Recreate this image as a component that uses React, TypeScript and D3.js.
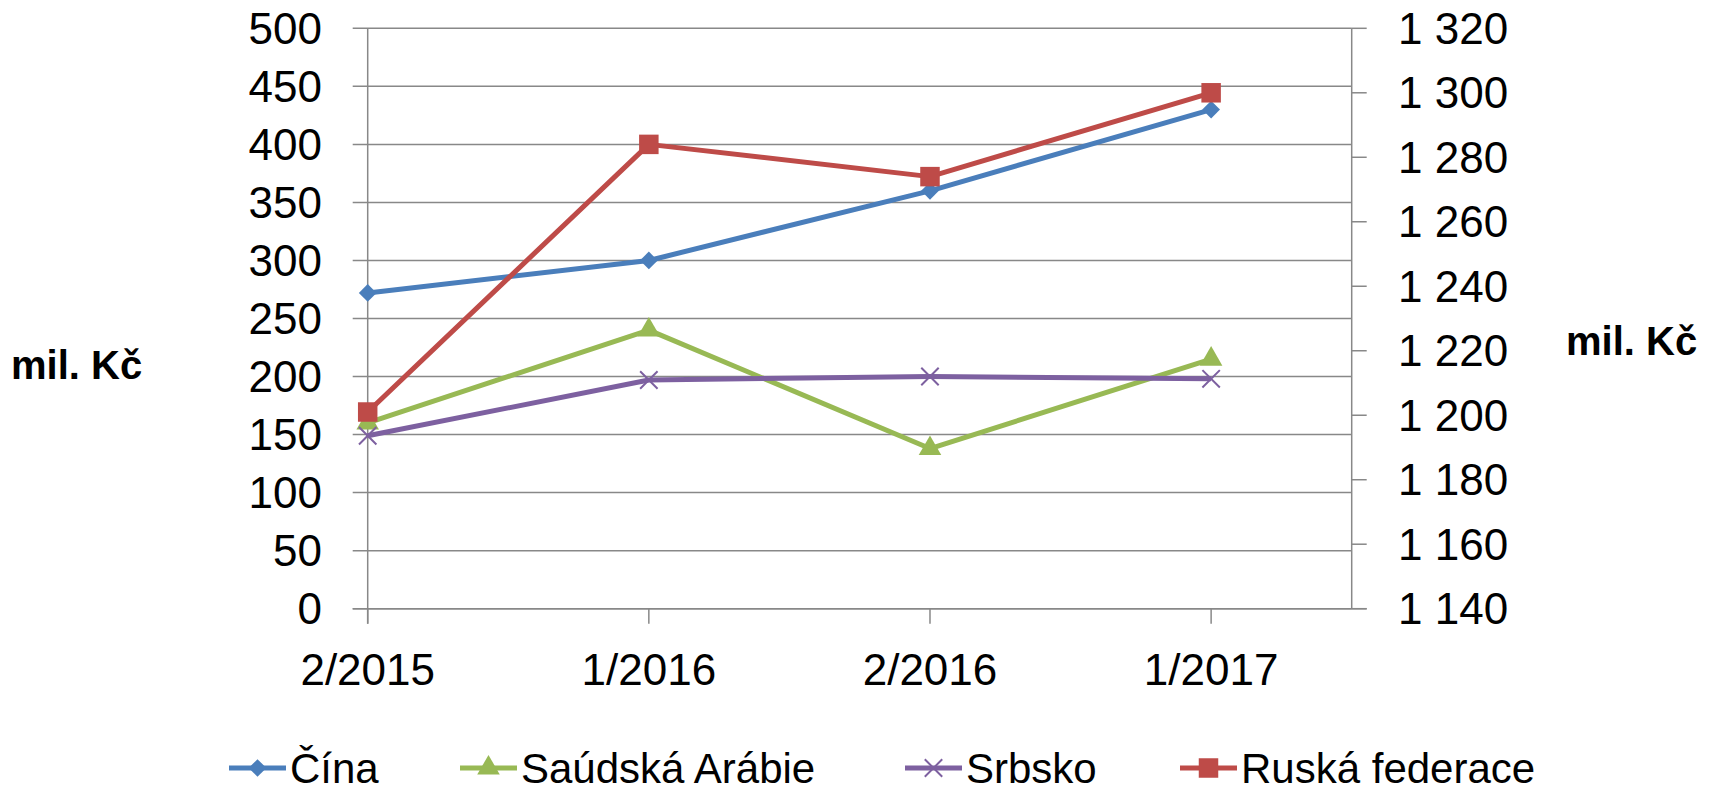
import { useEffect, useRef } from 'react'
import * as d3 from 'd3'

const categories = ['2/2015', '1/2016', '2/2016', '1/2017']

const cina = [272, 300, 360, 430]
const saudskaArabie = [160, 240, 138, 215]
const srbsko = [149, 197, 200, 198]
// Ruská federace sits on the secondary (right) axis
const ruskaFederace = [1201, 1284, 1274, 1300]

const leftTicks = [0, 50, 100, 150, 200, 250, 300, 350, 400, 450, 500]
const rightTicks = [1140, 1160, 1180, 1200, 1220, 1240, 1260, 1280, 1300, 1320]

const seriesNames = ['Čína', 'Saúdská Arábie', 'Srbsko', 'Ruská federace']
const seriesColors = ['#4A7EBB', '#98B954', '#7D60A0', '#BE4B48']
const seriesMarkers = ['diamond', 'triangle', 'x', 'square']

const W = 1709
const H = 792
const FONT = '"Liberation Sans", Arial, sans-serif'

export default function App() {
  const svgRef = useRef<SVGSVGElement>(null)

  useEffect(() => {
    if (!svgRef.current) return
    const svg = d3.select(svgRef.current)
    svg.selectAll('*').remove()

    const left = 367.7
    const right = 1351.7
    const top = 28.3
    const bottom = 608.7
    const step = (right - left) / 3.5

    const x = d3.scalePoint<string>().domain(categories).range([left, left + step * 3])
    const yL = d3.scaleLinear().domain([0, 500]).range([bottom, top])
    const yR = d3.scaleLinear().domain([1140, 1320]).range([bottom, top])

    const grid = '#888888'

    // horizontal gridlines + left ticks
    svg.append('g')
      .selectAll('line')
      .data(leftTicks)
      .enter()
      .append('line')
      .attr('x1', left - 15)
      .attr('x2', right)
      .attr('y1', (d) => yL(d))
      .attr('y2', (d) => yL(d))
      .attr('stroke', grid)
      .attr('stroke-width', 1.5)

    // left axis line
    svg.append('line')
      .attr('x1', left).attr('x2', left)
      .attr('y1', top).attr('y2', bottom + 15)
      .attr('stroke', grid).attr('stroke-width', 1.5)

    // right axis line + ticks
    svg.append('line')
      .attr('x1', right).attr('x2', right)
      .attr('y1', top).attr('y2', bottom)
      .attr('stroke', grid).attr('stroke-width', 1.5)
    svg.append('g')
      .selectAll('line')
      .data(rightTicks)
      .enter()
      .append('line')
      .attr('x1', right)
      .attr('x2', right + 15)
      .attr('y1', (d) => yR(d))
      .attr('y2', (d) => yR(d))
      .attr('stroke', grid)
      .attr('stroke-width', 1.5)

    // x axis line + ticks
    svg.append('line')
      .attr('x1', left - 15).attr('x2', right + 15)
      .attr('y1', bottom).attr('y2', bottom)
      .attr('stroke', grid).attr('stroke-width', 1.5)
    svg.append('g')
      .selectAll('line')
      .data(categories)
      .enter()
      .append('line')
      .attr('x1', (d) => x(d)!)
      .attr('x2', (d) => x(d)!)
      .attr('y1', bottom)
      .attr('y2', bottom + 15)
      .attr('stroke', grid)
      .attr('stroke-width', 1.5)

    // tick labels
    svg.append('g')
      .selectAll('text')
      .data(leftTicks)
      .enter()
      .append('text')
      .attr('x', 322)
      .attr('y', (d) => yL(d))
      .attr('dy', '0.35em')
      .attr('text-anchor', 'end')
      .style('font-family', FONT)
      .style('font-size', '44px')
      .text((d) => d)

    svg.append('g')
      .selectAll('text')
      .data(rightTicks)
      .enter()
      .append('text')
      .attr('x', 1398)
      .attr('y', (d) => yR(d))
      .attr('dy', '0.35em')
      .attr('text-anchor', 'start')
      .style('font-family', FONT)
      .style('font-size', '44px')
      .text((d) => d3.format(',')(d).replace(',', ' '))

    svg.append('g')
      .selectAll('text')
      .data(categories)
      .enter()
      .append('text')
      .attr('x', (d) => x(d)!)
      .attr('y', 670)
      .attr('dy', '0.35em')
      .attr('text-anchor', 'middle')
      .style('font-family', FONT)
      .style('font-size', '44px')
      .text((d) => d)

    // axis titles
    svg.append('text')
      .attr('x', 11).attr('y', 365).attr('dy', '0.35em')
      .style('font-family', FONT).style('font-size', '40px').style('font-weight', 'bold')
      .text('mil. Kč')
    svg.append('text')
      .attr('x', 1566).attr('y', 341).attr('dy', '0.35em')
      .style('font-family', FONT).style('font-size', '40px').style('font-weight', 'bold')
      .text('mil. Kč')

    const markerPath = (kind: string) => {
      if (kind === 'diamond') return d3.symbol(d3.symbolDiamond2, 200)()
      if (kind === 'triangle') return d3.symbol(d3.symbolTriangle, 220)()
      if (kind === 'square') return d3.symbol(d3.symbolSquare, 380)()
      return d3.symbol(d3.symbolX, 200)()
    }

    const drawMarker = (g: d3.Selection<SVGGElement, unknown, null, undefined>, kind: string, color: string, cx: number, cy: number) => {
      const p = g.append('path')
        .attr('d', markerPath(kind))
        .attr('transform', `translate(${cx},${cy})`)
      if (kind === 'x') {
        p.attr('fill', 'none').attr('stroke', color).attr('stroke-width', 2)
      } else {
        p.attr('fill', color)
      }
    }

    const allSeries = [cina, saudskaArabie, srbsko, ruskaFederace]
    allSeries.forEach((vals, i) => {
      const yScale = i === 3 ? yR : yL
      const line = d3.line<number>()
        .x((_, j) => x(categories[j])!)
        .y((d) => yScale(d))
      const g = svg.append('g')
      g.append('path')
        .attr('d', line(vals))
        .attr('fill', 'none')
        .attr('stroke', seriesColors[i])
        .attr('stroke-width', 5)
        .attr('stroke-linejoin', 'round')
      vals.forEach((v, j) => drawMarker(g, seriesMarkers[i], seriesColors[i], x(categories[j])!, yScale(v)))
    })

    // legend
    const legendX = [229, 460, 905, 1180]
    const legendY = 768
    seriesNames.forEach((name, i) => {
      const g = svg.append('g')
      g.append('line')
        .attr('x1', legendX[i]).attr('x2', legendX[i] + 57)
        .attr('y1', legendY).attr('y2', legendY)
        .attr('stroke', seriesColors[i]).attr('stroke-width', 5)
      drawMarker(g, seriesMarkers[i], seriesColors[i], legendX[i] + 28.5, legendY)
      g.append('text')
        .attr('x', legendX[i] + 61)
        .attr('y', legendY)
        .attr('dy', '0.35em')
        .style('font-family', FONT)
        .style('font-size', '42px')
        .text(name)
    })
  }, [])

  return (
    <div style={{ position: 'fixed', left: 0, top: 0 }}>
      <svg ref={svgRef} width={W} height={H} style={{ display: 'block', background: '#fff' }} />
    </div>
  )
}
